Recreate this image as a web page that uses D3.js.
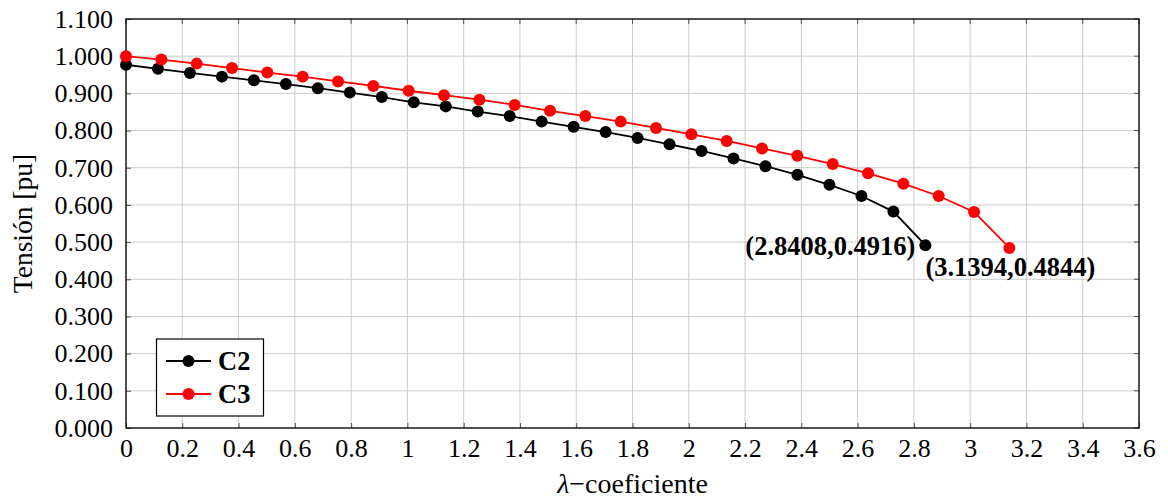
<!DOCTYPE html>
<html>
<head>
<meta charset="utf-8">
<script src="https://cdn.jsdelivr.net/npm/d3@7"></script>
<style>
  html, body { margin: 0; padding: 0; background: #fff; }
  svg { display: block; font-family: "Liberation Serif", "Times New Roman", serif; }
</style>
</head>
<body>
<svg id="chart" width="1168" height="500"></svg>
<script>
// ---- data ----
const c2Lambda = [0, 0.1136, 0.2273, 0.3409, 0.4545, 0.5682, 0.6818, 0.7954, 0.9091, 1.0227,
  1.1363, 1.2500, 1.3636, 1.4772, 1.5908, 1.7045, 1.8181, 1.9317, 2.0454, 2.1590,
  2.2726, 2.3863, 2.4999, 2.6135, 2.7272, 2.8408];
const c2Voltage = [0.977, 0.966, 0.955, 0.945, 0.935, 0.925, 0.914, 0.902, 0.890, 0.876,
  0.865, 0.851, 0.839, 0.824, 0.810, 0.796, 0.780, 0.763, 0.745, 0.725,
  0.704, 0.681, 0.654, 0.624, 0.582, 0.4916];
const c3Lambda = [0, 0.1256, 0.2512, 0.3767, 0.5023, 0.6279, 0.7535, 0.8790, 1.0046, 1.1302,
  1.2558, 1.3813, 1.5069, 1.6325, 1.7581, 1.8836, 2.0092, 2.1348, 2.2604, 2.3859,
  2.5115, 2.6371, 2.7627, 2.8882, 3.0138, 3.1394];
const c3Voltage = [1.000, 0.991, 0.980, 0.968, 0.956, 0.945, 0.932, 0.920, 0.907, 0.895,
  0.883, 0.869, 0.853, 0.839, 0.824, 0.807, 0.790, 0.772, 0.752, 0.732,
  0.710, 0.685, 0.657, 0.624, 0.581, 0.4844];
const seriesNames = ["C2", "C3"];
const seriesColors = ["#000000", "#ff0000"];
const xTicks = [0, 0.2, 0.4, 0.6, 0.8, 1, 1.2, 1.4, 1.6, 1.8, 2, 2.2, 2.4, 2.6, 2.8, 3, 3.2, 3.4, 3.6];
const yTicks = [0, 0.1, 0.2, 0.3, 0.4, 0.5, 0.6, 0.7, 0.8, 0.9, 1.0, 1.1];
const annotations = ["(2.8408,0.4916)", "(3.1394,0.4844)"];

// ---- layout ----
const svg = d3.select("#chart");
const L = 126, R = 1139, T = 19, B = 428;
const x = d3.scaleLinear().domain([0, 3.6]).range([L, R]);
const y = d3.scaleLinear().domain([0, 1.1]).range([B, T]);

// grid
const grid = svg.append("g");
grid.selectAll("line.vx").data(xTicks).join("line")
  .attr("x1", d => x(d)).attr("x2", d => x(d)).attr("y1", T).attr("y2", B)
  .attr("stroke", "#cbcbcb").attr("stroke-width", 1);
grid.selectAll("line.hy").data(yTicks).join("line")
  .attr("x1", L).attr("x2", R).attr("y1", d => y(d)).attr("y2", d => y(d))
  .attr("stroke", "#cbcbcb").attr("stroke-width", 1);

// axes
const xAxis = d3.axisBottom(x).tickValues(xTicks).tickSizeInner(-5).tickSizeOuter(0)
  .tickPadding(11).tickFormat(d => d3.format("~g")(d));
const gx = svg.append("g").attr("transform", `translate(0,${B})`).call(xAxis);
gx.select(".domain").remove();
gx.selectAll(".tick line").attr("stroke", "#555");
gx.selectAll(".tick text").attr("font-size", 26).attr("fill", "#000")
  .attr("font-family", "Liberation Serif").attr("dy", "0.71em");

const yAxis = d3.axisLeft(y).tickValues(yTicks).tickSizeInner(-5).tickSizeOuter(0)
  .tickPadding(13).tickFormat(d3.format(".3f"));
const gy = svg.append("g").attr("transform", `translate(${L},0)`).call(yAxis);
gy.select(".domain").remove();
gy.selectAll(".tick line").attr("stroke", "#555");
gy.selectAll(".tick text").attr("font-size", 26).attr("fill", "#000")
  .attr("font-family", "Liberation Serif");

// top & right inward ticks
svg.append("g").selectAll("line").data(xTicks).join("line")
  .attr("x1", d => x(d)).attr("x2", d => x(d)).attr("y1", T).attr("y2", T + 5)
  .attr("stroke", "#555");
svg.append("g").selectAll("line").data(yTicks).join("line")
  .attr("x1", R).attr("x2", R - 5).attr("y1", d => y(d)).attr("y2", d => y(d))
  .attr("stroke", "#555");

// frame
svg.append("rect").attr("x", L).attr("y", T).attr("width", R - L).attr("height", B - T)
  .attr("fill", "none").attr("stroke", "#000").attr("stroke-width", 1.3);

// series
const series = [
  { name: seriesNames[0], color: seriesColors[0], pts: c2Lambda.map((l, i) => [l, c2Voltage[i]]) },
  { name: seriesNames[1], color: seriesColors[1], pts: c3Lambda.map((l, i) => [l, c3Voltage[i]]) }
];
const line = d3.line().x(d => x(d[0])).y(d => y(d[1]));
series.forEach(s => {
  svg.append("path").datum(s.pts).attr("d", line)
    .attr("fill", "none").attr("stroke", s.color).attr("stroke-width", 1.8);
  svg.append("g").selectAll("circle").data(s.pts).join("circle")
    .attr("cx", d => x(d[0])).attr("cy", d => y(d[1])).attr("r", 6)
    .attr("fill", s.color);
});

// annotations
const lastC2 = series[0].pts[series[0].pts.length - 1];
const lastC3 = series[1].pts[series[1].pts.length - 1];
svg.append("text").attr("x", x(lastC2[0]) - 10).attr("y", y(lastC2[1]) + 10)
  .attr("text-anchor", "end").attr("font-size", 26.5).attr("font-weight", "bold")
  .text(annotations[0]);
svg.append("text").attr("x", x(lastC3[0]) + 1).attr("y", y(lastC3[1]) + 28)
  .attr("text-anchor", "middle").attr("font-size", 26.5).attr("font-weight", "bold")
  .text(annotations[1]);

// axis titles
const xt = svg.append("text").attr("x", (L + R) / 2).attr("y", 493)
  .attr("text-anchor", "middle").attr("font-size", 28);
xt.append("tspan").attr("font-style", "italic").text("λ");
xt.append("tspan").text("−coeficiente");
svg.append("text").attr("transform", `translate(32,${(T + B) / 2}) rotate(-90)`)
  .attr("text-anchor", "middle").attr("font-size", 27.5).text("Tensión [pu]");

// legend
const lg = svg.append("g");
lg.append("rect").attr("x", 156.5).attr("y", 339).attr("width", 107).attr("height", 77)
  .attr("fill", "#fff").attr("stroke", "#000").attr("stroke-width", 1.2);
series.forEach((s, i) => {
  const cy = 361 + i * 33;
  lg.append("line").attr("x1", 166).attr("x2", 211).attr("y1", cy).attr("y2", cy)
    .attr("stroke", s.color).attr("stroke-width", 1.8);
  lg.append("circle").attr("cx", 188.5).attr("cy", cy).attr("r", 6).attr("fill", s.color);
  lg.append("text").attr("x", 218).attr("y", cy + 9).attr("font-size", 26.5)
    .attr("font-weight", "bold").text(s.name);
});
</script>
</body>
</html>
